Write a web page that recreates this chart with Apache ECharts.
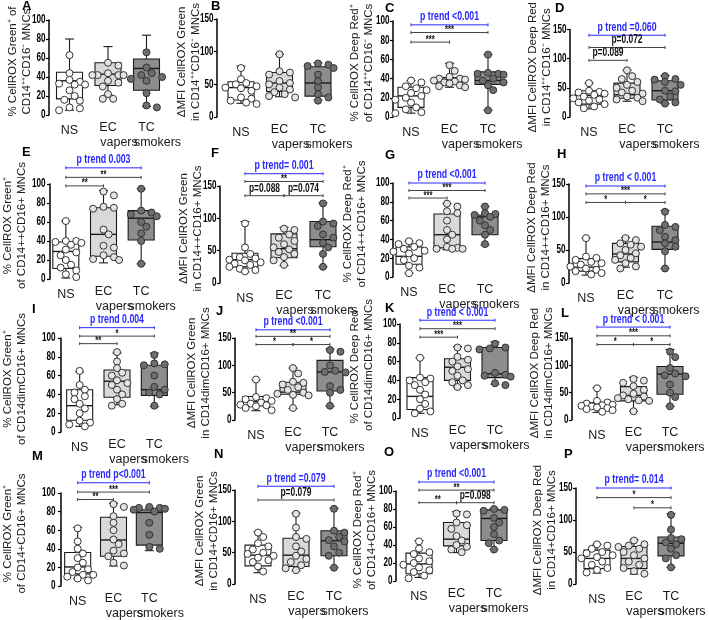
<!DOCTYPE html>
<html><head><meta charset="utf-8">
<script src="https://cdn.jsdelivr.net/npm/echarts@6/dist/echarts.min.js"></script>
<style>html,body{margin:0;padding:0;background:#fff}#c{width:709px;height:620px}</style>
</head><body><div id="c"></div>
<script>
// ---------- categories ----------
const groups = ['NS', 'EC', 'TC'];
const groupSub = ['', 'vapers', 'smokers'];
const panelIds = ['A','B','C','D','E','F','G','H','I','J','K','L','M','N','O','P'];

// ---------- y-axis titles ----------
const titleA = '% CellROX Green\u207A of\nCD14\u207A\u207ACD16\u207B MNCs';
const titleB = '\u0394MFI CellROX Green\nin CD14\u207A\u207ACD16\u207B MNCs';
const titleC = '% CellROX Deep Red\u207A\nof CD14\u207A\u207ACD16\u207B MNCs';
const titleD = '\u0394MFI CellROX Deep Red\nin CD14\u207A\u207ACD16\u207B MNCs';
const titleE = '% CellROX Green\u207A\nof CD14++CD16+ MNCs';
const titleF = '\u0394MFI CellROX Green\nin CD14++CD16+ MNCs';
const titleG = '% CellROX Deep Red\u207A\nof CD14++CD16+ MNCs';
const titleH = '\u0394MFI CellROX Deep Red\nin CD14++CD16+ MNCs';
const titleI = '% CellROX Green\u207A\nof CD14dimCD16+ MNCs';
const titleJ = '\u0394MFI CellROX Green\nin CD14dimCD16+ MNCs';
const titleK = '% CellROX Deep Red\u207A\nof CD14dimCD16+ MNCs';
const titleL = '\u0394MFI CellROX Deep Red\nin CD14dimCD16+ MNCs';
const titleM = '% CellROX Green\u207A\nof CD14+CD16+ MNCs';
const titleN = '\u0394MFI CellROX Green\nin CD14+CD16+ MNCs';
const titleO = '% CellROX Deep Red\u207A\nof CD14+CD16+ MNCs';
const titleP = '\u0394MFI CellROX Deep Red\nin CD14+CD16+ MNCs';

// ---------- y ticks ----------
const yTicksPct = [0, 20, 40, 60, 80, 100];
const yTicksMfi = [0, 50, 100, 150];

// ---------- box stats: [min, Q1, median, Q3, max] for NS, EC, TC ----------
const boxA = [[5,17,36,45,80],[21,31,43,55,72],[9,26,49,59,84]];
const boxB = [[21,26,45,54,78],[31,39,52,68,96],[26,32,52,77,83]];
const boxC = [[4,10,22,31,38],[31,35,38,41,56],[7,34,38,47,65]];
const boxD = [[14,22,37,45,58],[27,32,38,58,80],[23,29,45,62,71]];
const boxE = [[1,11,29,39,61],[17,24,47,75,93],[16,41,64,72,95]];
const boxF = [[17,25,36,46,95],[27,39,53,76,86],[25,56,67,95,124]];
const boxG = [[4,13.5,22,32,38],[29,31,45,67,78],[34,45,64,66,75]];
const boxH = [[12,18,24,37,68],[24,32,44,60,69],[22,51,62,86,110]];
const boxI = [[6,12.5,28,45,64],[29,37,54,66,84],[27,39,45,71,84]];
const boxJ = [[17,26,34,43,74],[21,47,51,69,95],[25,53,88,109,130]];
const boxK = [[5,9,23,43,64],[33,40,54,63,76],[36,43,47,75,81]];
const boxL = [[14,21,27.5,32,59],[16,35,45,61,78],[25,47,84,98,129]];
const boxM = [[8,13,20.5,36,63],[21.5,32,49.5,74,89],[38,44,79,82,84]];
const boxN = [[18,29,46,62,83.5],[21,28,46,73,113],[26,45,69,85,121]];
const boxO = [[4,8,19,31,45],[31.6,39,46.5,65,77],[35,45,69.5,79,80.7]];
const boxP = [[17,24,40,53,62],[15.5,24,40,58.5,69],[26,44,63.6,73.5,110]];

// ---------- individual points: NS, EC, TC ----------
const ptsA = [[63,44,37,35,33,32,32,26,20,16,15,8,7,5],[55,52,44,42,42,42,42,36,34,30,22,17,17],[66,50,44,42,40,38,36,23,10,8]];
const ptsB = [[75,58,52,50,47,45,44,40,30,28,25,22,20],[96,70,68,65,55,52,50,45,42,38,35,32,30],[82,80,78,75,65,55,45,35,30,25]];
const ptsC = [[38,36,32,30,28,25,22,20,18,15,10,8,5,4],[54,48,42,40,40,39,38,37,36,35,33,32,31],[65,46,45,45,44,40,38,36,33,28,7]];
const ptsD = [[58,45,43,42,40,38,35,32,30,28,25,22,18,15],[80,70,65,60,55,50,45,42,40,35,33,30,27],[70,65,64,60,55,45,44,35,30,25,23]];
const ptsE = [[61,40,40,39,38,36,31,28,25,20,15,12,9,5,2],[92,88,76,75,74,52,47,35,33,25,23,21,20],[95,72,70,68,66,60,55,48,40,16]];
const ptsF = [[92,55,45,40,38,36,35,32,30,28,25,22,20,18],[84,82,75,70,65,60,55,52,48,45,40,35,28],[123,95,92,88,75,70,62,55,45,25]];
const ptsG = [[38,36,35,32,30,28,27,25,20,18,12,10,4],[78,75,70,68,60,50,45,40,32,31,30,30,30],[75,68,67,66,64,60,55,50,45,35]];
const ptsH = [[68,40,38,35,32,30,28,25,22,20,18,15,13],[68,65,60,58,55,50,45,42,38,35,30,25,22],[108,88,85,80,70,65,60,55,48,22]];
const ptsI = [[65,50,45,42,38,35,30,25,20,12,10,8,6],[85,75,68,63,60,55,52,50,45,40,35,30,28],[82,73,72,71,60,48,45,42,40,28]];
const ptsJ = [[74,42,40,38,35,32,30,28,27,25,22,18],[95,85,70,68,65,60,55,50,48,46,45,22],[128,125,100,90,88,87,62,55,50,26]];
const ptsK = [[64,43,42,40,38,35,30,25,20,15,10,7,5],[75,74,65,62,60,55,52,50,45,40,38,35,33],[79,75,74,73,48,46,45,44,37,35]];
const ptsL = [[58,35,32,30,28,27,26,25,23,22,20,18,15],[75,72,68,62,55,48,45,43,40,38,36,35,16],[125,115,95,85,82,80,65,50,42,25]];
const ptsM = [[62,48,40,35,30,25,20,18,15,12,12,10,8,6],[88,85,75,68,60,50,45,38,35,32,25,22],[85,84,84,83,82,80,68,55,42,40]];
const ptsN = [[82,75,65,60,55,50,48,45,42,38,35,28,20],[112,90,75,72,60,52,45,40,35,30,25,22],[120,85,82,75,70,68,60,50,45,26]];
const ptsO = [[44,36,32,30,25,22,20,18,15,12,10,6,3],[75,74,65,62,58,50,45,40,38,35,32],[80,79,78,70,65,60,52,45,42,35]];
const ptsP = [[62,60,55,50,48,45,42,40,35,30,25,22,18],[68,62,60,58,55,50,45,40,35,30,25,20,16],[108,85,72,70,65,62,55,45,40,26]];

// ---------- significance brackets: [fromGroup, toGroup, yValue, label, isTrend] ----------
const sigA = [];
const sigB = [];
const sigC = [[0,2,96,'p trend <0.001',1],[0,2,88,'***',0],[0,1,78,'***',0]];
const sigD = [[0,2,140,'p trend =0.060',1],[0,2,119,'p=0.072',0],[0,1,97,'p=0.089',0]];
const sigE = [[0,2,117,'p trend 0.003',1],[0,2,107,'**',0],[0,1,98,'**',0]];
const sigF = [[0,2,169,'p trend= 0.001',1],[0,2,157,'**',0],[0,1,135,'p=0.088',0],[1,2,135,'p=0.074',0]];
const sigG = [[0,2,100,'p trend <0.001',1],[0,2,92,'***',0],[0,1,84,'***',0]];
const sigH = [[0,2,147,'p trend < 0.001',1],[0,2,135,'***',0],[0,1,122,'*',0],[1,2,122,'*',0]];
const sigI = [[0,2,111,'p trend 0.004',1],[0,2,102,'*',0],[0,1,94,'**',0]];
const sigJ = [[0,2,165,'p trend <0.001',1],[0,2,153,'**',0],[0,1,138,'*',0],[1,2,138,'*',0]];
const sigK = [[0,2,104,'p trend < 0.001',1],[0,2,95,'***',0],[0,1,86,'***',0]];
const sigL = [[0,2,170,'p trend < 0.001',1],[0,2,154,'***',0],[0,1,138,'*',0],[1,2,138,'*',0]];
const sigM = [[0,2,111,'p trend p<0.001',1],[0,2,101,'***',0],[0,1,93,'**',0]];
const sigN = [[0,2,156,'p trend =0.079',1],[0,2,134,'p=0.079',0]];
const sigO = [[0,2,110,'p trend <0.001',1],[0,2,101,'**',0],[0,1,87,'**',0],[1,2,87,'p=0.098',0]];
const sigP = [[0,2,150,'p trend= 0.014',1],[0,2,135,'*',0],[1,2,119,'*',0]];

// ---------- assemble per-panel references ----------
const DATA = {
  A:[boxA,ptsA,sigA,titleA,yTicksPct], B:[boxB,ptsB,sigB,titleB,yTicksMfi],
  C:[boxC,ptsC,sigC,titleC,yTicksPct], D:[boxD,ptsD,sigD,titleD,yTicksMfi],
  E:[boxE,ptsE,sigE,titleE,yTicksPct], F:[boxF,ptsF,sigF,titleF,yTicksMfi],
  G:[boxG,ptsG,sigG,titleG,yTicksPct], H:[boxH,ptsH,sigH,titleH,yTicksMfi],
  I:[boxI,ptsI,sigI,titleI,yTicksPct], J:[boxJ,ptsJ,sigJ,titleJ,yTicksMfi],
  K:[boxK,ptsK,sigK,titleK,yTicksPct], L:[boxL,ptsL,sigL,titleL,yTicksMfi],
  M:[boxM,ptsM,sigM,titleM,yTicksPct], N:[boxN,ptsN,sigN,titleN,yTicksMfi],
  O:[boxO,ptsO,sigO,titleO,yTicksPct], P:[boxP,ptsP,sigP,titleP,yTicksMfi]
};

// ---------- layout (pixels): [yAxisX, firstCenter, categoryStep, topPx, zeroPx, letterX, letterY, nameGap] ----------
const LAYOUT = {
  A:[49,69.5,38.5,20,115, 22,0, 15],    B:[217,241,38.5,19,117, 211,0, 14],
  C:[393,411,38.5,21,117, 385,2, 17],   D:[570,589,38,21,117, 555,2, 16],
  E:[49,65,38,184,279, 22,146, 21],     F:[220,245,39,186,283, 211,147, 15],
  G:[393,409,38,183,277, 385,149, 24],  H:[569,586,39.5,184,283, 557,148, 16],
  I:[59,78,38,338,432, 32,303, 32],     J:[235,256,37,338,420, 216,305, 22],
  K:[400,420,37.5,324,418, 385,302, 24], L:[572,597,36.5,338,420, 561,307, 16],
  M:[59,76,36.5,493,588, 32,450, 32],   N:[235,258,38,490,584, 214,448, 14],
  O:[396,419,37.5,491,581, 384,446, 17], P:[576,597,37,488,584, 564,448, 17]
};

// ---------- styles ----------
const BOX_W = 26, CAP_W = 9, DOT = 7;
const boxFill = ['#ffffff', '#d9d9d9', '#8d8d8d'];
const dotFill = ['#ffffff', '#e4e4e4', '#6e6e6e'];
const INK = '#1a1a1a';
const BLUE = '#2a2aff';
const SANS = "'Liberation Sans',Arial,Helvetica,sans-serif";
const NARROW_X = 0.68; // horizontal compression to mimic a condensed bold face

// beeswarm-style horizontal spread (layout only; values untouched)
function spread(values, pxPerUnit) {
  const order = values.map((v, k) => k).sort((a, b) => values[b] - values[a]);
  const placed = [];
  const out = new Array(values.length).fill(0);
  const cands = [0, 1, -1, 2, -2, 3, -3];
  const step = 5.2;
  order.forEach(k => {
    const y = values[k] * pxPerUnit;
    let best = 0, bestD = -1;
    for (const c of cands) {
      const dx = c * step;
      let md = Infinity;
      placed.forEach(p => { md = Math.min(md, Math.hypot(dx - p[0], y - p[1])); });
      if (md >= DOT - 0.5) { best = dx; bestD = Infinity; break; }
      if (md > bestD) { bestD = md; best = dx; }
    }
    placed.push([best, y]);
    out[k] = best;
  });
  return out;
}

const grids = [], xAxes = [], yAxes = [], series = [], graphics = [];

panelIds.forEach((id, gi) => {
  const [box, pts, sig, title, ticks] = DATA[id];
  const [axX, c0, step, topPx, zeroPx, lx, ly, nGap] = LAYOUT[id];
  const yMax = ticks[ticks.length - 1];
  const yStep = ticks[1] - ticks[0];
  const left = c0 - step / 2;
  grids.push({ left: left, top: topPx, width: step * 3, height: zeroPx - topPx });
  xAxes.push({
    gridIndex: gi, type: 'category', data: groups, boundaryGap: true,
    axisLine: { show: false }, axisTick: { show: false }, splitLine: { show: false },
    axisLabel: {
      interval: 0, margin: 6, color: INK, fontFamily: SANS, fontSize: 12,
      formatter: (v, i) => i === 0 ? '{n|' + v + '}' : '{a|' + v + '}\n{b|' + groupSub[i] + '}',
      rich: {
        n: { fontFamily: SANS, fontSize: 12.5, color: INK, lineHeight: 14, padding: [5, 0, 0, 0] },
        a: { fontFamily: SANS, fontSize: 12.5, color: INK, lineHeight: 14 },
        b: { fontFamily: SANS, fontSize: 12.5, color: INK, lineHeight: 15, padding: [0, 0, 0, 22] }
      }
    }
  });
  yAxes.push({
    gridIndex: gi, type: 'value', min: 0, max: yMax, interval: yStep,
    offset: left - axX,
    axisLine: { show: true, lineStyle: { color: '#000', width: 1.5 } },
    axisTick: { show: true, length: 3, lineStyle: { color: '#000', width: 1.2 } },
    splitLine: { show: false },
    axisLabel: { show: false },
    name: title, nameLocation: 'middle', nameGap: nGap, nameRotate: 90, nameMoveOverlap: false,
    nameTextStyle: { fontFamily: SANS, fontSize: 11.5, lineHeight: 14, color: INK, padding: [0, 0, 0, 12] }
  });

  // y tick labels (condensed bold), placed through the axis scale
  series.push({
    type: 'custom', xAxisIndex: gi, yAxisIndex: gi, clip: false, z: 5, silent: true,
    data: ticks.map(v => [0, v]),
    renderItem: (params, api) => {
      const c = api.coord([0, api.value(1)]);
      return { type: 'text', x: axX - 3.5, y: c[1], scaleX: NARROW_X,
        style: { text: String(api.value(1)), fill: '#000', align: 'right', verticalAlign: 'middle',
          font: 'bold 12px ' + SANS } };
    }
  });

  // boxes
  series.push({
    type: 'custom', xAxisIndex: gi, yAxisIndex: gi, clip: false, z: 2,
    data: box.map((b, i) => [i, b[0], b[1], b[2], b[3], b[4]]),
    renderItem: (params, api) => {
      const i = api.value(0);
      const mn = api.coord([i, api.value(1)]);
      const q1 = api.coord([i, api.value(2)]);
      const md = api.coord([i, api.value(3)]);
      const q3 = api.coord([i, api.value(4)]);
      const mx = api.coord([i, api.value(5)]);
      const x = mn[0], hw = BOX_W / 2, cw = CAP_W / 2;
      const ls = { stroke: INK, lineWidth: 1.1 };
      return { type: 'group', children: [
        { type: 'line', shape: { x1: x, y1: mx[1], x2: x, y2: q3[1] }, style: ls },
        { type: 'line', shape: { x1: x, y1: q1[1], x2: x, y2: mn[1] }, style: ls },
        { type: 'line', shape: { x1: x - cw, y1: mx[1], x2: x + cw, y2: mx[1] }, style: ls },
        { type: 'line', shape: { x1: x - cw, y1: mn[1], x2: x + cw, y2: mn[1] }, style: ls },
        { type: 'rect', shape: { x: x - hw, y: q3[1], width: BOX_W, height: q1[1] - q3[1] },
          style: { fill: boxFill[i], stroke: INK, lineWidth: 1.1 } },
        { type: 'line', shape: { x1: x - hw, y1: md[1], x2: x + hw, y2: md[1] }, style: { stroke: INK, lineWidth: 1.4 } }
      ] };
    }
  });

  // points
  const ppu = (zeroPx - topPx) / yMax;
  const pdata = [];
  pts.forEach((arr, i) => {
    const off = spread(arr, ppu);
    arr.forEach((v, k) => pdata.push([i, v, off[k]]));
  });
  series.push({
    type: 'custom', xAxisIndex: gi, yAxisIndex: gi, clip: false, z: 3,
    data: pdata,
    renderItem: (params, api) => {
      const i = api.value(0);
      const c = api.coord([i, api.value(1)]);
      return { type: 'circle', shape: { cx: c[0] + api.value(2), cy: c[1], r: DOT / 2 },
        style: { fill: dotFill[i], stroke: '#333', lineWidth: 1 } };
    }
  });

  // significance brackets
  if (sig.length) {
    series.push({
      type: 'custom', xAxisIndex: gi, yAxisIndex: gi, clip: false, z: 4,
      data: sig.map(s => [s[0], s[2], s[1]]),
      renderItem: (params, api) => {
        const s = sig[params.dataIndex];
        const p1 = api.coord([api.value(0), api.value(1)]);
        const p2 = api.coord([api.value(2), api.value(1)]);
        const col = s[4] ? BLUE : '#444';
        const y = p1[1];
        const isStar = /^\*+$/.test(s[3]);
        return { type: 'group', children: [
          { type: 'line', shape: { x1: p1[0], y1: y, x2: p2[0], y2: y }, style: { stroke: col, lineWidth: 1 } },
          { type: 'line', shape: { x1: p1[0], y1: y - 1.5, x2: p1[0], y2: y + 1.5 }, style: { stroke: col, lineWidth: 1 } },
          { type: 'line', shape: { x1: p2[0], y1: y - 1.5, x2: p2[0], y2: y + 1.5 }, style: { stroke: col, lineWidth: 1 } },
          { type: 'text', x: (p1[0] + p2[0]) / 2, y: isStar ? y + 3 : y - 1.5, scaleX: 0.7,
            style: { text: s[3], fill: s[4] ? BLUE : '#111', align: 'center', verticalAlign: 'bottom',
              font: 'bold ' + (s[4] ? 12.5 : (isStar ? 11 : 12)) + 'px ' + SANS } }
        ] };
      }
    });
  }

  graphics.push({ type: 'text', left: lx, top: ly,
    style: { text: id, fill: '#000', font: 'bold 13px ' + SANS } });
});

const chart = echarts.init(document.getElementById('c'), null, { renderer: 'canvas' });
chart.setOption({
  animation: false,
  backgroundColor: '#fff',
  grid: grids, xAxis: xAxes, yAxis: yAxes, series: series, graphic: graphics
});
</script>
</body></html>
